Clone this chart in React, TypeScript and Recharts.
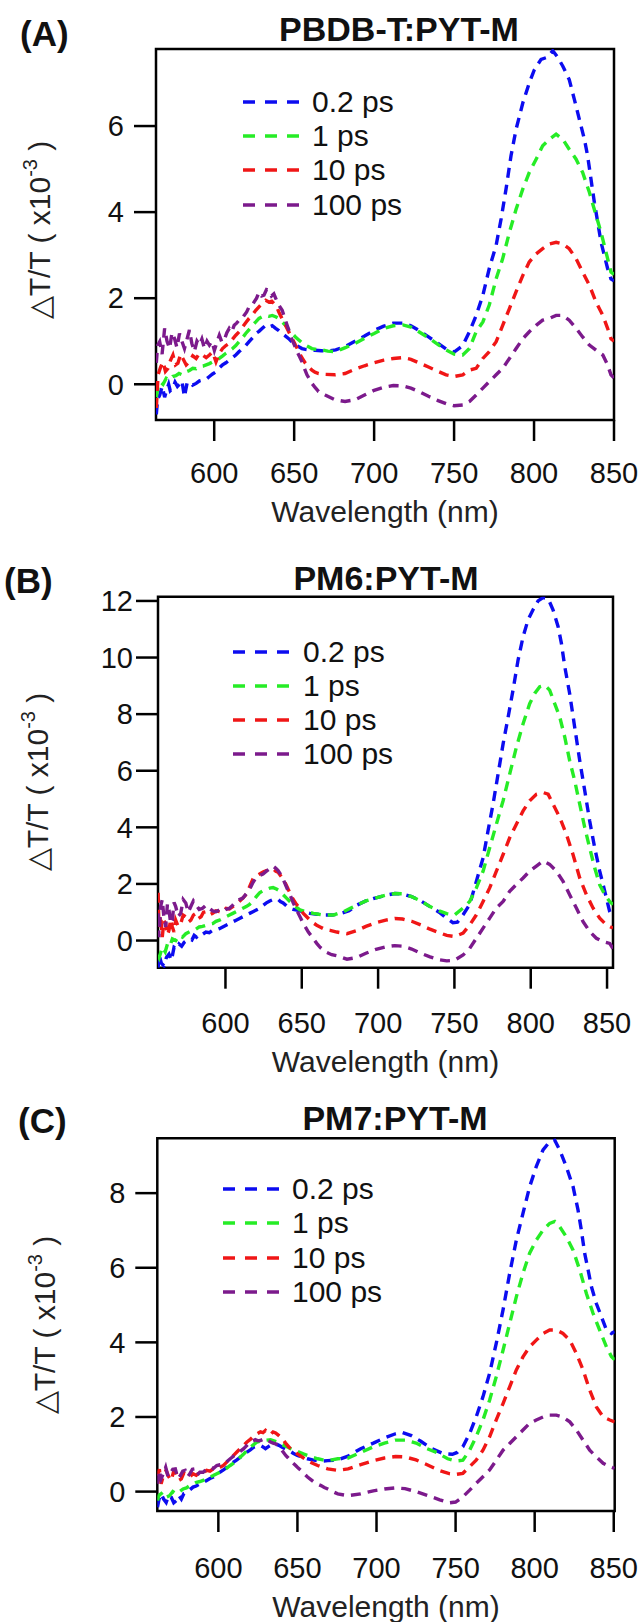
import { LineChart, Line, XAxis, YAxis, ReferenceArea, Legend } from "recharts"

const FONT = '"Liberation Sans", Arial, Helvetica, sans-serif'

const DELAYS = ["0.2 ps", "1 ps", "10 ps", "100 ps"]
const COLORS = ["#0c0cf0", "#26ec26", "#f01616", "#7c1a8c"]
const WAVELENGTH_TICKS = [600, 650, 700, 750, 800, 850]

type Pt = [number, number] // [wavelength nm, dT/T x1e-3]

// ---- PBDB-T:PYT-M ----
const PBDB_02PS: Pt[] = [
  [563.8,-0.7],[564.6,-0.35],[565.9,-0.25],[567.5,-0.05],[569,-0.3],[570,-0.17],[571.5,0],[572.5,-0.15],[574.2,-0.09],[575.5,0.05],[577,-0.05],[578.3,0],[579.8,0.08],[581.4,-0.29],[583,0.02],[584.5,0.06],[586.5,-0.02],[588.7,0.02],[590.8,0.08],[592.8,0.1],[595,0.12],[597,0.18],[599,0.24],[601.1,0.29],[603.2,0.38],[605.2,0.45],[607.3,0.5],[609.4,0.56],[611.5,0.62],[613.5,0.68],[615.6,0.76],[617.7,0.83],[619.7,0.9],[621.8,0.99],[624,1.08],[626,1.18],[628,1.23],[630.1,1.3],[632.2,1.37],[634.2,1.33],[636.3,1.36],[638.4,1.3],[640.4,1.25],[642.5,1.18],[644.6,1.12],[646.6,1.06],[648.7,0.98],[650.8,0.91],[652.9,0.87],[654.9,0.83],[657,0.81],[659,0.8],[663,0.79],[667,0.78],[671,0.77],[676,0.8],[682,0.88],[688,1],[694,1.12],[700,1.25],[706,1.35],[712,1.42],[718,1.42],[723,1.36],[728,1.25],[734,1.1],[740,0.95],[745,0.82],[750,0.75],[755.4,0.9],[759.6,1.22],[763.8,1.6],[768,2.07],[772,2.69],[776.3,3.23],[779.4,3.84],[782.5,4.54],[785.6,5.31],[788.8,5.93],[793,6.54],[797,7],[800.2,7.31],[804.4,7.55],[808.5,7.6],[811.7,7.75],[814.8,7.6],[818,7.39],[822,7.08],[825.2,6.62],[828.3,6.16],[831.5,5.69],[833.5,5.31],[835.6,4.77],[837.7,4.23],[839.8,3.77],[841.9,3.3],[844,2.99],[846,2.69],[848.1,2.45],[850,2.4],
]
const PBDB_1PS: Pt[] = [
  [563.8,-0.3],[565,-0.05],[566.5,0.05],[568,0],[570,0.14],[572,0.1],[574,0.18],[576,0.2],[578,0.25],[580,0.22],[582.5,0.29],[584.5,0.32],[586.6,0.37],[588.7,0.36],[590.8,0.41],[593,0.42],[595,0.45],[597,0.48],[599,0.52],[601,0.55],[603.2,0.6],[605.3,0.66],[607.3,0.72],[609.4,0.77],[611.5,0.83],[613.5,0.9],[615.6,0.99],[617.7,1.08],[619.7,1.18],[621.8,1.27],[623.9,1.37],[626,1.45],[628,1.53],[630,1.57],[632.2,1.6],[634.3,1.58],[636.3,1.6],[638.4,1.57],[640.4,1.53],[642.5,1.45],[644.6,1.37],[646.6,1.27],[648.7,1.18],[650.8,1.1],[652.9,1.03],[655,0.96],[657,0.91],[659,0.87],[661.1,0.83],[664,0.81],[667.3,0.8],[671,0.77],[675.6,0.76],[682,0.85],[688,0.95],[694,1.07],[700,1.18],[706,1.3],[712,1.36],[718,1.38],[723,1.33],[728,1.22],[734,1.08],[740,0.92],[745,0.8],[750,0.7],[755.4,0.68],[759.6,0.83],[763.8,1.22],[768,1.45],[772,1.84],[776.3,2.45],[780.4,2.92],[784.6,3.53],[788.8,4.07],[793,4.54],[797,4.92],[801.3,5.23],[805.4,5.54],[809.6,5.69],[813.8,5.81],[818,5.69],[822,5.46],[826.3,5.23],[830.4,4.92],[834.6,4.46],[838.8,3.92],[841.9,3.53],[845,3.07],[848.1,2.61],[850,2.55],
]
const PBDB_10PS: Pt[] = [
  [563.8,-0.55],[564.9,0.22],[566.5,0.4],[568,0.52],[569.5,0.3],[571.1,0.37],[572.6,0.55],[574.2,0.68],[575.8,0.45],[577.3,0.49],[579,0.7],[580.4,0.6],[582.5,0.45],[584.5,0.52],[586.6,0.66],[588.7,0.6],[590.8,0.72],[592.8,0.68],[595,0.62],[597,0.68],[599,0.75],[601.1,0.52],[603.2,0.72],[605.2,0.83],[607.3,0.9],[609.4,0.95],[611.5,1.05],[613.5,1.14],[615.6,1.22],[617.7,1.33],[619.7,1.43],[621.8,1.53],[624,1.62],[626,1.72],[628,1.8],[630.1,1.88],[632.2,1.95],[634.2,1.91],[636,1.93],[637.3,1.88],[639,1.8],[640.4,1.68],[642.5,1.52],[644.6,1.37],[646.2,1.25],[647.7,1.14],[649.3,1.02],[650.8,0.91],[652.4,0.8],[653.9,0.68],[655.5,0.58],[657,0.49],[659,0.4],[661.1,0.33],[663,0.28],[665.3,0.25],[669.4,0.23],[675.6,0.22],[681.8,0.25],[688,0.35],[694,0.43],[700,0.5],[706,0.56],[712,0.6],[718,0.62],[723,0.58],[728,0.5],[734,0.4],[740,0.3],[745,0.22],[750,0.18],[755.4,0.22],[759.6,0.33],[763.8,0.37],[768,0.6],[772,0.76],[776.3,0.99],[780.4,1.37],[784.6,1.76],[788.8,2.15],[793,2.53],[797,2.84],[801.3,3.03],[805.4,3.15],[809.6,3.26],[813.8,3.3],[818,3.26],[822,3.15],[826.3,2.92],[830.4,2.61],[834.6,2.3],[838.8,1.91],[843,1.6],[846,1.3],[848.1,1.06],[850,1],
]
const PBDB_100PS: Pt[] = [
  [563.8,0.5],[564.6,0.9],[565.9,0.99],[567.4,0.7],[569,1.3],[570.5,1],[572.1,0.83],[573.6,1.2],[575.2,1.06],[576.7,0.85],[578.3,1.18],[579.8,1],[581.4,0.83],[583,1.05],[584.5,1.26],[586,0.95],[587.6,0.76],[589.2,1],[590.8,0.91],[592.3,1.05],[593.9,0.83],[595.5,1],[597,0.91],[598.6,1],[600.1,0.79],[601.7,0.98],[603.2,1.14],[604.8,0.98],[606.3,1.03],[607.9,1.2],[609.4,1.3],[611,1.22],[612.5,1.37],[614,1.42],[615.6,1.49],[617.2,1.52],[618.7,1.6],[620.3,1.68],[621.8,1.8],[623.4,1.82],[624.9,1.91],[626.5,2],[628,2.14],[629.6,2.05],[631.1,2.07],[632.7,2.2],[634.2,2.18],[635.8,2.05],[637.3,2.1],[639,1.95],[640.4,1.84],[642.5,1.72],[644,1.55],[645.6,1.37],[647.2,1.2],[648.7,1.03],[650.3,0.9],[651.8,0.76],[653.4,0.64],[654.9,0.52],[656.5,0.36],[658,0.22],[659.6,0.12],[661.1,0.02],[663.2,-0.08],[665.3,-0.17],[669.4,-0.25],[675.6,-0.36],[681.8,-0.4],[688,-0.36],[694,-0.25],[700,-0.14],[706,-0.07],[712,-0.03],[718,-0.04],[723,-0.09],[728,-0.17],[734,-0.28],[740,-0.38],[745,-0.45],[750,-0.5],[755.4,-0.48],[759.6,-0.4],[763.8,-0.25],[768,-0.09],[772,0.06],[776.3,0.22],[780.4,0.37],[784.6,0.6],[788.8,0.83],[793,1.06],[797,1.22],[801.3,1.37],[805.4,1.49],[809.6,1.53],[813.8,1.6],[818,1.6],[822,1.49],[826.3,1.3],[830.4,1.1],[834.6,0.91],[838.8,0.79],[843,0.68],[846,0.45],[848.1,0.22],[850,0.15],
]

// ---- PM6:PYT-M ----
const PM6_02PS: Pt[] = [
  [555.9,-0.96],[556.4,-0.48],[558,-0.8],[559.7,-0.9],[561.3,-0.6],[563,-0.48],[564.6,-0.7],[566.3,-0.24],[568,-0.3],[569.6,-0.12],[571.3,-0.2],[573,-0.06],[574.6,0],[576.2,0.06],[578,0.02],[579.5,0.18],[581,0.12],[582.8,0.24],[585,0.22],[587.2,0.3],[589.4,0.28],[591.6,0.36],[594,0.38],[596,0.42],[598.2,0.48],[600.4,0.54],[602.6,0.6],[604.8,0.66],[607,0.72],[609.2,0.78],[611.4,0.84],[613.6,0.9],[615.8,0.96],[618,1.02],[620.2,1.08],[622.4,1.14],[624.6,1.24],[626.8,1.33],[629,1.4],[631.2,1.45],[633,1.42],[634.5,1.45],[636,1.38],[637.8,1.33],[640,1.22],[642.2,1.14],[644.4,1.1],[646.6,1.08],[648.8,1.05],[651,1.02],[653.2,0.99],[655.4,0.96],[660,0.93],[665,0.9],[670,0.9],[675,0.95],[681,1.05],[686,1.25],[692,1.4],[698,1.5],[705,1.6],[711,1.66],[716,1.65],[722,1.55],[728,1.4],[734,1.2],[740,1],[745,0.78],[749,0.63],[752,0.65],[755.7,0.91],[760,1.27],[764.4,2.1],[768.8,2.92],[772,3.87],[775.3,4.82],[778.6,5.88],[781.9,6.95],[785.2,7.9],[788.4,8.85],[791.7,9.91],[795,10.74],[798.3,11.34],[801.5,11.69],[804.8,12],[808.1,12.12],[811.4,12.08],[814.6,11.69],[817.9,11.1],[820.1,10.5],[822.3,9.68],[825.5,8.73],[828.8,7.54],[832.1,6.36],[835.4,5.29],[838.6,4.23],[841.9,3.28],[845.2,2.45],[848.5,1.74],[851.7,1.03],[853.9,0.79],
]
const PM6_1PS: Pt[] = [
  [555.9,-0.5],[556.6,-0.6],[558.6,-0.24],[560.5,-0.4],[562,-0.12],[563.6,-0.2],[565.2,0.06],[567.4,0],[569.6,0.18],[571.8,0.12],[574,0.24],[576.2,0.3],[578.4,0.36],[580.6,0.4],[582.8,0.48],[585,0.5],[587.2,0.54],[589.4,0.58],[591.6,0.6],[593.8,0.68],[596,0.72],[598.2,0.78],[600.4,0.84],[602.6,0.9],[604.8,0.96],[607,1.02],[609.2,1.08],[611.4,1.14],[613.6,1.2],[615.8,1.28],[618,1.39],[620.2,1.55],[622.4,1.69],[624.6,1.76],[626.8,1.81],[629,1.85],[631.2,1.87],[633.4,1.82],[635.6,1.75],[637.8,1.62],[640,1.5],[642.2,1.38],[644.4,1.27],[646.6,1.17],[648.8,1.08],[651,1.05],[653.2,1.02],[655.4,0.99],[657.6,0.96],[661,0.93],[664.2,0.9],[670.8,0.9],[677.4,1.02],[681.8,1.14],[686,1.25],[692,1.4],[698,1.5],[705,1.6],[711,1.66],[716,1.65],[722,1.55],[728,1.4],[734,1.2],[740,1.05],[745,0.95],[750,0.9],[755.7,1.15],[760,1.38],[764.4,1.86],[768.8,2.45],[773.1,3.28],[777.5,4.11],[781.9,4.94],[786.2,5.88],[790.6,6.83],[795,7.66],[799.3,8.37],[802.6,8.73],[805.9,8.97],[809.2,9.02],[812.4,8.85],[815.7,8.37],[819,7.9],[822.3,7.19],[825.5,6.36],[828.8,5.65],[832.1,4.82],[835.4,3.99],[838.6,3.28],[841.9,2.57],[845.2,1.97],[848.5,1.62],[851.7,1.38],[853.9,1.27],
]
const PM6_10PS: Pt[] = [
  [555.9,1.69],[556.4,0.48],[557.5,0.9],[558.6,0.12],[559.7,0.7],[560.8,0.6],[562,0.2],[563,0.36],[564.1,0.75],[565.2,0.48],[566.3,0.3],[567.4,0.72],[569,0.5],[570.7,0.6],[572.3,0.9],[574,0.84],[575.6,0.65],[577.3,0.72],[579,0.9],[580.6,0.96],[582.3,0.78],[584,0.84],[585.6,1],[587.2,1.02],[589.4,0.9],[591.6,0.96],[593.8,1.05],[596,1.02],[598.2,1],[600.4,1.14],[602.6,1.12],[604.8,1.2],[607,1.28],[609.2,1.39],[611.4,1.5],[613.6,1.63],[615.8,1.9],[618,2.17],[620.2,2.28],[622.4,2.35],[624.6,2.42],[626.8,2.47],[629,2.5],[631.2,2.53],[633,2.45],[634.5,2.41],[636,2.3],[637.8,2.17],[639.5,2],[641.1,1.81],[642.8,1.62],[644.4,1.45],[646,1.32],[647.7,1.2],[649.4,1.08],[651,0.96],[653.2,0.84],[655.4,0.72],[657.6,0.62],[659.8,0.54],[662,0.48],[664.2,0.42],[666.4,0.38],[668.6,0.36],[673,0.3],[679.6,0.24],[686,0.35],[692,0.5],[698,0.62],[705,0.72],[711,0.78],[716,0.76],[722,0.68],[728,0.55],[734,0.4],[740,0.28],[745,0.18],[750,0.14],[755.7,0.26],[760,0.55],[764.4,0.91],[768.8,1.38],[773.1,1.86],[777.5,2.45],[781.9,3.04],[786.2,3.63],[790.6,4.11],[795,4.58],[799.3,4.94],[803.7,5.17],[808.1,5.23],[811.4,5.17],[814.6,4.82],[819,4.35],[823.4,3.75],[827.7,3.04],[832.1,2.21],[836.5,1.62],[840.8,1.15],[845.2,0.79],[849.6,0.55],[853.9,0.44],
]
const PM6_100PS: Pt[] = [
  [555.9,0.96],[556.4,0.12],[557.5,1.2],[558.6,1.45],[559.7,0.8],[560.8,0.48],[562,1.3],[563,1.08],[564.1,0.6],[565.2,0.72],[566.3,1.35],[567.4,1.2],[569,0.85],[570.7,0.96],[572.3,1.45],[574,1.33],[575.6,1],[577.3,1.2],[579,1.4],[580.6,1.27],[582.8,1.1],[585,1.14],[587.2,1.25],[589.4,1.14],[591.6,1.05],[593.8,1.02],[596,1.08],[598.2,1.02],[600.4,1.1],[602.6,1.14],[604.8,1.25],[607,1.39],[609.2,1.45],[611.4,1.5],[613.6,1.65],[615.8,1.81],[618,2.05],[620.2,2.23],[622.4,2.3],[624.6,2.35],[626.8,2.45],[629,2.53],[631.2,2.63],[633,2.55],[634.5,2.47],[636,2.35],[637.8,2.17],[639.5,1.95],[641.1,1.75],[642.8,1.55],[644.4,1.33],[646,1.15],[647.7,0.96],[649.4,0.78],[651,0.6],[652.7,0.45],[654.3,0.3],[656,0.18],[657.6,0.06],[659.8,-0.1],[662,-0.24],[664.2,-0.34],[666.4,-0.42],[669.6,-0.5],[673,-0.54],[679.6,-0.66],[686,-0.6],[692,-0.45],[698,-0.32],[705,-0.22],[711,-0.18],[716,-0.2],[722,-0.3],[728,-0.45],[734,-0.58],[740,-0.68],[745,-0.72],[750,-0.7],[755.7,-0.51],[760,-0.28],[764.4,0.08],[768.8,0.44],[773.1,0.79],[777.5,1.15],[781.9,1.38],[786.2,1.74],[790.6,1.98],[795,2.21],[799.3,2.45],[803.7,2.63],[808.1,2.81],[812.4,2.69],[816.8,2.45],[821.2,2.09],[825.5,1.62],[829.9,1.15],[834.3,0.67],[838.6,0.32],[843,0.08],[847.3,-0.04],[851.7,-0.1],[853.9,-0.28],
]

// ---- PM7:PYT-M ----
const PM7_02PS: Pt[] = [
  [561.5,-0.42],[562.5,-0.2],[563.8,-0.06],[565.4,-0.2],[567,-0.29],[568.6,-0.1],[570.2,-0.15],[571.8,-0.3],[573.4,-0.24],[575,-0.1],[576.6,-0.2],[578.2,-0.05],[579.8,-0.02],[582,0.05],[584,0.12],[586,0.15],[588.3,0.21],[590.5,0.25],[592.6,0.3],[594.7,0.35],[596.8,0.39],[599,0.45],[601.1,0.52],[603.2,0.58],[605.3,0.65],[607.5,0.72],[609.6,0.79],[611.7,0.85],[613.8,0.92],[616,0.99],[618.1,1.06],[620.2,1.12],[622.3,1.19],[624.5,1.22],[626.6,1.24],[628.2,1.2],[629.8,1.15],[631.4,1.2],[633,1.24],[634.6,1.26],[636.2,1.28],[638.3,1.24],[640.4,1.19],[642.5,1.14],[644.7,1.1],[647.3,1.03],[650,0.97],[653.2,0.92],[656.4,0.88],[659.6,0.85],[662.8,0.83],[666,0.82],[669.2,0.83],[675.5,0.85],[682,0.95],[690,1.15],[698,1.3],[705,1.44],[712,1.55],[716,1.59],[722,1.5],[728,1.35],[735,1.15],[742,1.02],[748,1],[751,1.05],[754.6,1.2],[758.9,1.56],[763,2],[767.3,2.54],[771.5,3.17],[775.7,3.97],[780,4.87],[784.2,5.85],[788.4,6.74],[792.6,7.46],[796.8,8.17],[801,8.71],[805.3,9.16],[809.5,9.38],[812.7,9.42],[815.8,9.16],[820,8.71],[824.3,8.17],[827.4,7.55],[829.5,7.01],[831.6,6.39],[833.8,5.94],[835.9,5.49],[839,5.04],[842.2,4.69],[845.4,4.33],[848.5,4.24],[850.6,4.29],
]
const PM7_1PS: Pt[] = [
  [561.5,-0.24],[562.5,-0.1],[564.9,-0.02],[567,-0.15],[569.1,-0.11],[571.2,0],[573.4,-0.06],[575.5,0],[577.7,0.07],[579.8,0.1],[581.9,0.16],[584,0.2],[586.2,0.25],[588.3,0.27],[590.4,0.3],[592.6,0.35],[594.7,0.39],[596.8,0.43],[599,0.48],[601.1,0.52],[603.2,0.57],[605.3,0.63],[607.5,0.7],[609.6,0.76],[611.7,0.83],[613.8,0.92],[616,1.01],[618.1,1.1],[620.2,1.19],[622.3,1.26],[624.5,1.33],[626.6,1.35],[628.7,1.37],[630.8,1.38],[633,1.39],[635.1,1.36],[637.2,1.33],[639.4,1.28],[641.5,1.24],[643.6,1.2],[645.7,1.15],[648.4,1.1],[651,1.06],[653.7,1.01],[656.4,0.97],[659.6,0.92],[662.8,0.88],[666,0.85],[669.2,0.83],[675.5,0.88],[682,0.9],[690,1.05],[698,1.2],[705,1.3],[712,1.38],[718,1.38],[725,1.3],[732,1.15],[738,1.05],[745,0.88],[750,0.82],[754.6,0.84],[758.9,1.11],[763,1.47],[767.3,1.92],[771.5,2.45],[775.7,3.08],[780,3.79],[784.2,4.51],[788.4,5.22],[792.6,5.85],[796.8,6.39],[801,6.74],[805.3,7.01],[809.5,7.19],[812.7,7.24],[815.8,7.1],[820,6.83],[824.3,6.47],[828.5,5.94],[832.7,5.31],[836.9,4.78],[841.1,4.33],[845.4,3.88],[848.5,3.62],[850.6,3.53],
]
const PM7_10PS: Pt[] = [
  [561.5,0.43],[562.7,0.6],[563.8,0.21],[565.4,0.45],[567,0.57],[568.6,0.4],[570.2,0.3],[571.8,0.55],[573.4,0.48],[575,0.3],[576.6,0.34],[578.2,0.5],[579.8,0.43],[582,0.4],[584,0.48],[586,0.44],[588.3,0.52],[590.5,0.5],[592.6,0.57],[594.7,0.55],[596.8,0.61],[599,0.6],[601.1,0.65],[603.2,0.7],[605.3,0.79],[607.5,0.88],[609.6,0.97],[611.7,1.06],[613.8,1.15],[616,1.24],[618.1,1.33],[620.2,1.4],[622.3,1.48],[624.5,1.55],[626.6,1.6],[628.2,1.58],[629.8,1.64],[631.4,1.57],[633,1.53],[634.6,1.6],[636.2,1.57],[638.3,1.5],[640.4,1.42],[642.5,1.3],[644.7,1.19],[647.3,1.1],[650,1.01],[653.2,0.92],[656.4,0.83],[659.6,0.76],[662.8,0.7],[666,0.65],[669.2,0.61],[675.5,0.57],[682,0.61],[690,0.72],[698,0.83],[705,0.9],[712,0.94],[718,0.93],[725,0.85],[732,0.72],[740,0.56],[746,0.48],[750,0.46],[754.6,0.49],[758.9,0.67],[763,0.84],[767.3,1.11],[771.5,1.47],[775.7,1.92],[780,2.36],[784.2,2.81],[788.4,3.26],[792.6,3.61],[796.8,3.88],[801,4.06],[805.3,4.24],[809.5,4.33],[813.7,4.33],[817.9,4.24],[822.2,4.06],[826.4,3.7],[830.6,3.26],[834.8,2.72],[839,2.27],[843.3,2],[847.5,1.92],[850.6,1.87],
]
const PM7_100PS: Pt[] = [
  [561.5,0.21],[562.5,0.57],[563.8,0.34],[565.4,0.5],[566.7,0.65],[568.2,0.4],[569.6,0.48],[571.2,0.6],[572.8,0.61],[574.4,0.35],[576,0.43],[577.5,0.55],[579,0.57],[580.6,0.4],[582,0.48],[583.6,0.6],[585.1,0.61],[586.7,0.45],[588.3,0.52],[590.4,0.52],[592.6,0.6],[594.7,0.65],[596.8,0.62],[599,0.7],[601.1,0.72],[603.2,0.74],[605.3,0.8],[607.5,0.88],[609.6,0.95],[611.7,1.01],[613.8,1.08],[616,1.15],[618.1,1.24],[620.2,1.33],[622,1.36],[623.4,1.39],[625,1.36],[626.6,1.37],[628.2,1.4],[629.8,1.42],[631.4,1.37],[633,1.33],[634.6,1.3],[636.2,1.28],[637.8,1.22],[639.4,1.15],[641,1.06],[642.6,0.97],[644.2,0.9],[645.8,0.83],[647.3,0.76],[648.9,0.7],[650.5,0.63],[652.1,0.57],[654.2,0.48],[656.4,0.39],[658.5,0.32],[660.6,0.25],[662.8,0.2],[664.9,0.16],[667,0.11],[669.2,0.07],[672.3,0],[675.5,-0.06],[682,-0.11],[690,-0.06],[698,0.02],[705,0.07],[712,0.1],[718,0.08],[725,0],[732,-0.1],[740,-0.22],[746,-0.3],[750,-0.28],[754.6,-0.14],[758.9,0.04],[763,0.22],[767.3,0.4],[771.5,0.58],[775.7,0.84],[780,1.11],[784.2,1.29],[788.4,1.47],[792.6,1.65],[796.8,1.83],[801,1.92],[805.3,2],[809.5,2.05],[813.7,2.05],[817.9,2],[822.2,1.87],[826.4,1.65],[830.6,1.38],[834.8,1.11],[839,0.93],[843.3,0.76],[847.5,0.67],[850.6,0.62],
]

const PBDB_Y_TICKS = [0, 2, 4, 6]
const PM6_Y_TICKS = [0, 2, 4, 6, 8, 10, 12]
const PM7_Y_TICKS = [0, 2, 4, 6, 8]

const toRows = (pts: Pt[]) => pts.map(([wl, dt]) => ({ wl, dt }))

const PANELS = [
  {
    letter: "(A)", title: "PBDB-T:PYT-M",
    series: [PBDB_02PS, PBDB_1PS, PBDB_10PS, PBDB_100PS],
    xDomain: [563.6, 850], yDomain: [-0.83, 7.79], yTicks: PBDB_Y_TICKS,
    top: 0, height: 540,
    margin: { top: 49, right: 29, bottom: 60, left: 96 },
    xTickMargin: 21, yTickMargin: 10,
    legend: { left: 243, top: 84.5, row: 34.3, gap: 13 },
    letterX: 20, letterY: 46, titleX: 399, titleY: 41,
    xLabelY: 522, yLabelX: 50, yLabelY: 230,
  },
  {
    letter: "(B)", title: "PM6:PYT-M",
    series: [PM6_02PS, PM6_1PS, PM6_10PS, PM6_100PS],
    xDomain: [555.8, 853.9], yDomain: [-0.96, 12.15], yTicks: PM6_Y_TICKS,
    top: 540, height: 540,
    margin: { top: 56.7, right: 30, bottom: 52.3, left: 98 },
    xTickMargin: 24, yTickMargin: 3,
    legend: { left: 233, top: 95.5, row: 33.8, gap: 14 },
    letterX: 4, letterY: 52.6, titleX: 386, titleY: 50,
    xLabelY: 532, yLabelX: 48, yLabelY: 242,
  },
  {
    letter: "(C)", title: "PM7:PYT-M",
    series: [PM7_02PS, PM7_1PS, PM7_10PS, PM7_100PS],
    xDomain: [561.4, 850.6], yDomain: [-0.52, 9.47], yTicks: PM7_Y_TICKS,
    top: 1080, height: 542,
    margin: { top: 58.3, right: 28.3, bottom: 51, left: 97.3 },
    xTickMargin: 25, yTickMargin: 10,
    legend: { left: 223, top: 92, row: 34.3, gap: 13 },
    letterX: 18, letterY: 52.6, titleX: 395, titleY: 50,
    xLabelY: 537, yLabelX: 55, yLabelY: 245,
  },
]

type PanelCfg = (typeof PANELS)[number]

function DelayLegend({ payload, cfg }: { payload?: any[]; cfg: PanelCfg }) {
  return (
    <div style={{ fontFamily: FONT, fontSize: 30, color: "#111" }}>
      {(payload || []).map((entry) => (
        <div key={entry.value} style={{ display: "flex", alignItems: "center", height: cfg.legend.row }}>
          <svg width={56} height={8} style={{ display: "block" }}>
            <line x1={0} y1={4} x2={56} y2={4} stroke={entry.color} strokeWidth={3.5} strokeDasharray="12 10" />
          </svg>
          <span style={{ marginLeft: cfg.legend.gap, lineHeight: 1, whiteSpace: "nowrap" }}>{entry.value}</span>
        </div>
      ))}
    </div>
  )
}

function Panel({ cfg }: { cfg: PanelCfg }) {
  const plotLeft = cfg.margin.left + 60
  const plotRight = 643 - cfg.margin.right
  return (
    <div style={{ position: "absolute", left: 0, top: cfg.top, width: 643, height: cfg.height }}>
      <LineChart width={643} height={cfg.height} margin={cfg.margin}>
        <XAxis
          type="number"
          dataKey="wl"
          domain={cfg.xDomain}
          allowDataOverflow
          ticks={WAVELENGTH_TICKS}
          interval={0}
          height={60}
          axisLine={false}
          tickSize={21}
          tickMargin={cfg.xTickMargin}
          tickLine={{ stroke: "#000", strokeWidth: 2.5 }}
          tick={{ fill: "#111", fontSize: 29, fontFamily: FONT }}
        />
        <YAxis
          type="number"
          domain={cfg.yDomain}
          allowDataOverflow
          ticks={cfg.yTicks}
          interval={0}
          width={60}
          axisLine={false}
          tickSize={22}
          tickMargin={cfg.yTickMargin}
          tickLine={{ stroke: "#000", strokeWidth: 2.5 }}
          tick={{ fill: "#111", fontSize: 29, fontFamily: FONT }}
        />
        <ReferenceArea
          x1={cfg.xDomain[0]}
          x2={cfg.xDomain[1]}
          y1={cfg.yDomain[0]}
          y2={cfg.yDomain[1]}
          fill="#fff"
          fillOpacity={0}
          stroke="#000"
          strokeWidth={2.5}
        />
        {cfg.series.map((pts, i) => (
          <Line
            key={DELAYS[i]}
            data={toRows(pts)}
            dataKey="dt"
            name={DELAYS[i]}
            type="linear"
            stroke={COLORS[i]}
            strokeWidth={3.4}
            strokeDasharray="10 7"
            dot={false}
            activeDot={false}
            isAnimationActive={false}
          />
        ))}
        <Legend
          layout="vertical"
          align="center"
          verticalAlign="middle"
          wrapperStyle={{ left: cfg.legend.left, top: cfg.legend.top, width: "auto" }}
          content={(props: any) => <DelayLegend payload={props.payload} cfg={cfg} />}
        />
      </LineChart>
      <svg
        width={643}
        height={cfg.height}
        style={{ position: "absolute", left: 0, top: 0, pointerEvents: "none" }}
        fontFamily={FONT}
      >
        <text x={cfg.letterX} y={cfg.letterY} fontSize={35} fontWeight="bold" fill="#111">
          {cfg.letter}
        </text>
        <text x={cfg.titleX} y={cfg.titleY} fontSize={34} fontWeight="bold" textAnchor="middle" fill="#111">
          {cfg.title}
        </text>
        <text x={(plotLeft + plotRight) / 2} y={cfg.xLabelY} fontSize={30} textAnchor="middle" fill="#222">
          Wavelength (nm)
        </text>
        <text
          transform={`translate(${cfg.yLabelX},${cfg.yLabelY}) rotate(-90)`}
          fontSize={30}
          textAnchor="middle"
          fill="#222"
        >
          <tspan>{"\u25B3T/T ( x10"}</tspan>
          <tspan fontSize={20} dy={-13}>-3</tspan>
          <tspan dy={13}>{" )"}</tspan>
        </text>
      </svg>
    </div>
  )
}

export default function App() {
  return (
    <div style={{ position: "absolute", left: 0, top: 0, width: 643, height: 1622, background: "#fff" }}>
      {PANELS.map((p) => (
        <Panel key={p.letter} cfg={p} />
      ))}
    </div>
  )
}
